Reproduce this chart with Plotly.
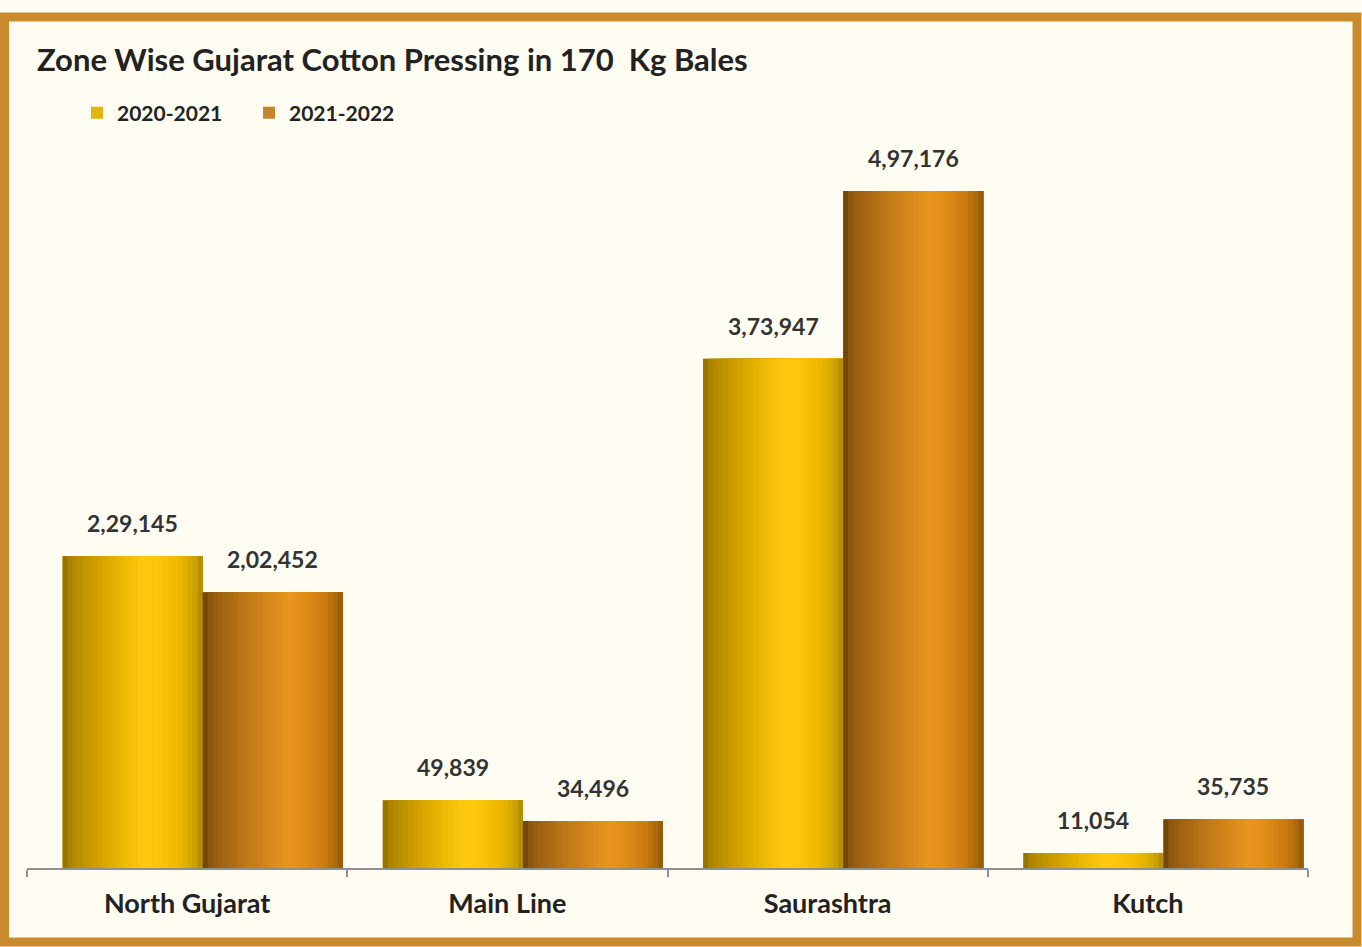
import plotly.graph_objects as go

# ---------------- data ----------------
zones = ["North Gujarat", "Main Line", "Saurashtra", "Kutch"]
season_2020_21 = [229145, 49839, 373947, 11054]
season_2021_22 = [202452, 34496, 497176, 35735]
series_names = ["2020-2021", "2021-2022"]
title_text = "Zone Wise Gujarat Cotton Pressing in 170  Kg Bales"

# ---------------- style ----------------
BG = "#FFFDF2"
BORDER = "#C98B2C"
FONT = "Lato"
W_PX, H_PX = 1362, 947
ML, MR, MB, MT = 27, 54, 79, 51
PLOT_W = W_PX - ML - MR
PLOT_H = H_PX - MT - MB
YMAX = 600000

BAR_W = 0.4375
OFFSETS = [-0.389, 0.0484]
legend_colors = ["#E3B40E", "#C3852B"]
gradients = [
    [(0.0, "#8C6C00"), (0.06, "#B08700"), (0.35, "#E2AE00"), (0.58, "#FFCA0D"),
     (0.70, "#FCC509"), (0.86, "#E8B500"), (0.96, "#C59C00"), (1.0, "#A78500")],
    [(0.0, "#6A3C07"), (0.06, "#925A0E"), (0.35, "#C67D18"), (0.62, "#E9971F"),
     (0.74, "#E08B16"), (0.88, "#C87A10"), (0.96, "#A9680B"), (1.0, "#8D560A")],
]
N_SLICES = 28


def hex2rgb(h):
    h = h.lstrip("#")
    return tuple(int(h[i:i + 2], 16) for i in (0, 2, 4))


def grad_color(stops, t):
    for (t0, c0), (t1, c1) in zip(stops[:-1], stops[1:]):
        if t0 <= t <= t1:
            f = 0 if t1 == t0 else (t - t0) / (t1 - t0)
            a, b = hex2rgb(c0), hex2rgb(c1)
            r = [round(a[i] + (b[i] - a[i]) * f) for i in range(3)]
            return "rgb(%d,%d,%d)" % tuple(r)
    return stops[-1][1]


def indian(n):
    s = str(int(n))
    if len(s) <= 3:
        return s
    last3, rest = s[-3:], s[:-3]
    groups = []
    while len(rest) > 2:
        groups.insert(0, rest[-2:])
        rest = rest[:-2]
    if rest:
        groups.insert(0, rest)
    return ",".join(groups) + "," + last3


fig = go.Figure()
all_series = [season_2020_21, season_2021_22]

for si, vals in enumerate(all_series):
    fig.add_trace(go.Bar(
        x=zones, y=vals, name=series_names[si],
        marker=dict(color=legend_colors[si], line=dict(width=0)),
        width=BAR_W, offset=OFFSETS[si], showlegend=True,
        hoverinfo="skip",
    ))
    dw = BAR_W / N_SLICES
    for k in range(N_SLICES):
        t = (k + 0.5) / N_SLICES
        fig.add_trace(go.Bar(
            x=zones, y=vals, name=series_names[si],
            marker=dict(color=grad_color(gradients[si], t), line=dict(width=0)),
            width=BAR_W - k * dw, offset=OFFSETS[si] + k * dw,
            showlegend=False, hoverinfo="skip",
        ))

annotations = []
for si, vals in enumerate(all_series):
    for ci, v in enumerate(vals):
        annotations.append(dict(
            x=ci + OFFSETS[si] + BAR_W / 2, y=v, xref="x", yref="y",
            text="<b>" + indian(v) + "</b>", showarrow=False,
            yanchor="bottom", yshift=17,
            font=dict(family=FONT, size=23, color="#333333"),
        ))


def px_x(p):
    return (p - ML) / PLOT_W


def px_y(p):
    return (H_PX - MB - p) / PLOT_H


fig.add_shape(type="rect", xref="paper", yref="paper",
              x0=px_x(4.5), x1=px_x(1357), y0=px_y(942), y1=px_y(17),
              line=dict(color=BORDER, width=9), fillcolor="rgba(0,0,0,0)",
              layer="below")

fig.update_layout(
    width=W_PX, height=H_PX,
    margin=dict(l=ML, r=MR, t=MT, b=MB, pad=0, autoexpand=False),
    paper_bgcolor=BG, plot_bgcolor=BG,
    barmode="overlay",
    font=dict(family=FONT, color="#222222"),
    title=dict(text="<b>" + title_text + "</b>", xref="container", yref="container",
               x=37 / W_PX, y=1 - 60 / H_PX, xanchor="left", yanchor="middle",
               font=dict(family=FONT, size=31, color="#222222")),
    legend=dict(orientation="h", xref="container", yref="container",
                x=77 / W_PX, y=1 - 113 / H_PX, xanchor="left", yanchor="middle",
                font=dict(family=FONT, size=21, color="#222222", weight="bold"),
                bgcolor="rgba(0,0,0,0)", entrywidth=127, entrywidthmode="pixels",
                itemclick=False),
    xaxis=dict(type="category", showgrid=False, showline=True, linecolor="#8F8F8F",
               linewidth=1.5, ticks="outside", tickson="boundaries", ticklen=7,
               tickcolor="#8F8F8F", tickwidth=1.5,
               tickfont=dict(family=FONT, size=27, color="#222222", weight="bold"),
               ticklabelstandoff=11, zeroline=False, fixedrange=True),
    yaxis=dict(range=[0, YMAX], visible=False, showgrid=False, zeroline=False,
               fixedrange=True),
    annotations=annotations,
    showlegend=True,
)

fig.write_html("out.html", config={"displayModeBar": False},
               post_script="document.body.style.margin='0px';document.body.style.overflow='hidden';")
